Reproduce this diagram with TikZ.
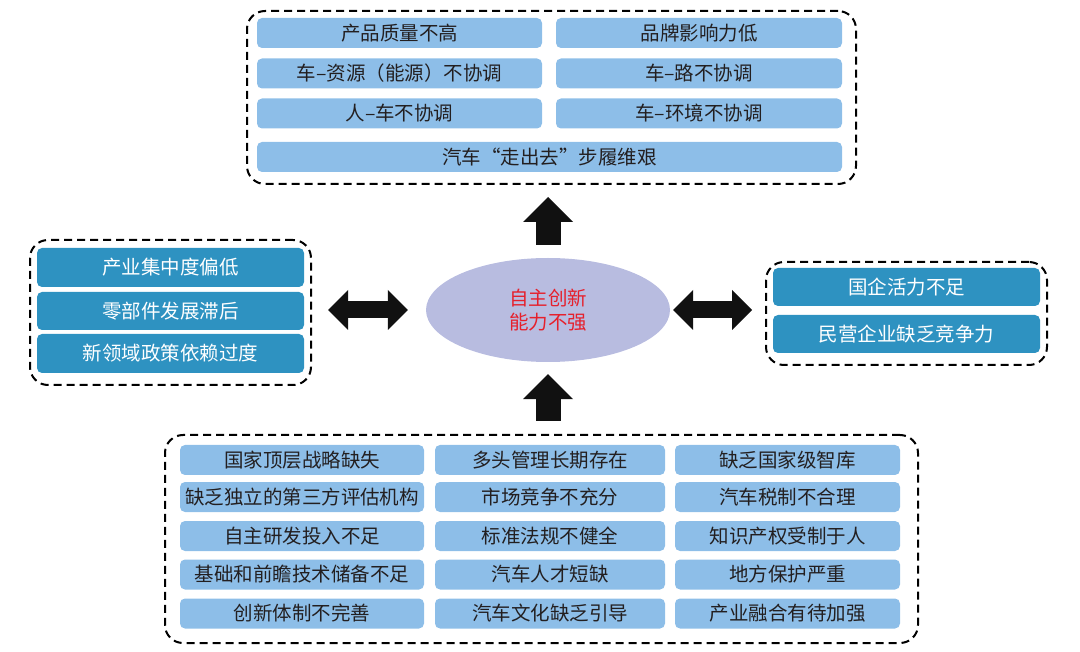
\documentclass[tikz,border=0pt]{standalone}
\usepackage{fontspec}
\newfontfamily\cjk{Noto Sans CJK SC}
\usepackage{tikz}
\usetikzlibrary{arrows.meta,shapes.geometric}
\definecolor{boxLight}{RGB}{141,190,232}
\definecolor{boxDark}{RGB}{46,146,193}
\definecolor{coreFill}{RGB}{184,188,224}
\definecolor{coreText}{RGB}{230,32,44}
\definecolor{inkGray}{RGB}{35,31,32}
\definecolor{arrowInk}{RGB}{17,17,17}

\begin{document}
\begin{tikzpicture}[
  x=1pt, y=-1pt,
  every node/.style={font=\cjk\fontsize{19.5}{24}\selectfont, inner sep=0pt},
  group/.style={draw=black, line width=2pt, dash pattern=on 8pt off 5pt, rounded corners=18pt},
  light/.style={fill=boxLight, text=inkGray, rounded corners=5pt, minimum height=30pt},
  dark/.style={fill=boxDark, text=white, rounded corners=5pt, minimum height=38pt, minimum width=267pt},
  core/.style={ellipse, fill=coreFill, text=coreText, align=center, minimum width=244pt, minimum height=104pt},
  block up/.style={color=arrowInk, line width=25pt,
    -{Triangle[length=25pt, width=50pt, line width=0pt]}, shorten <=13pt, shorten >=12pt},
  block both/.style={color=arrowInk, line width=17pt,
    {Triangle[length=20pt, width=40pt, line width=0pt]}-{Triangle[length=20pt, width=40pt, line width=0pt]}}
]
\useasboundingbox (0,0) rectangle (1080,652);

% groups
\node[group, minimum width=609pt, minimum height=173pt] (topGrp) at (551.5,97.5) {};
\node[group, minimum width=281pt, minimum height=145pt] (leftGrp) at (170.5,312.5) {};
\node[group, minimum width=281pt, minimum height=103pt] (rightGrp) at (906.5,313.5) {};
\node[group, minimum width=753pt, minimum height=208pt] (botGrp) at (541.5,539) {};

% top
\node[light, minimum width=285pt] (t1) at (399.5,33) {产品质量不高};
\node[light, minimum width=286pt] (t2) at (699,33) {品牌影响力低};
\node[light, minimum width=285pt] (t3) at (399.5,73.5) {车–资源（能源）不协调};
\node[light, minimum width=286pt] (t4) at (699,73.5) {车–路不协调};
\node[light, minimum width=285pt] (t5) at (399.5,113.5) {人–车不协调};
\node[light, minimum width=286pt] (t6) at (699,113.5) {车–环境不协调};
\node[light, minimum width=585pt] (t7) at (549.5,157) {汽车“走出去”步履维艰};

% left and right
\node[dark, minimum height=39pt] (l1) at (170.5,267.5) {产业集中度偏低};
\node[dark] (l2) at (170.5,311) {零部件发展滞后};
\node[dark, minimum height=39pt] (l3) at (170.5,353.5) {新领域政策依赖过度};
\node[dark] (r1) at (906.5,287) {国企活力不足};
\node[dark] (r2) at (906.5,334) {民营企业缺乏竞争力};

\node[core] (core) at (548,310) {自主创新\\能力不强}; % root

% bottom
\node[light, minimum width=244pt] (b11) at (302,460) {国家顶层战略缺失};
\node[light, minimum width=230pt] (b12) at (550,460) {多头管理长期存在};
\node[light, minimum width=225pt] (b13) at (787.5,460) {缺乏国家级智库};
\node[light, minimum width=244pt] (b21) at (302,497) {缺乏独立的第三方评估机构};
\node[light, minimum width=230pt] (b22) at (550,497) {市场竞争不充分};
\node[light, minimum width=225pt] (b23) at (787.5,497) {汽车税制不合理};
\node[light, minimum width=244pt] (b31) at (302,536) {自主研发投入不足};
\node[light, minimum width=230pt] (b32) at (550,536) {标准法规不健全};
\node[light, minimum width=225pt] (b33) at (787.5,536) {知识产权受制于人};
\node[light, minimum width=244pt] (b41) at (302,574.5) {基础和前瞻技术储备不足};
\node[light, minimum width=230pt] (b42) at (550,574.5) {汽车人才短缺};
\node[light, minimum width=225pt] (b43) at (787.5,574.5) {地方保护严重};
\node[light, minimum width=244pt] (b51) at (302,613.5) {创新体制不完善};
\node[light, minimum width=230pt] (b52) at (550,613.5) {汽车文化缺乏引导};
\node[light, minimum width=225pt] (b53) at (787.5,613.5) {产业融合有待加强};

% block arrows
\draw[block up] (core.north) -- (core.north |- topGrp.south);
\draw[block up] (core.south |- botGrp.north) -- (core.south);
\draw[block both, shorten <=16pt, shorten >=18pt] (leftGrp.east |- core.west) -- (core.west);
\draw[block both, shorten <=3pt, shorten >=13pt] (core.east) -- (core.east -| rightGrp.west);
\end{tikzpicture}
\end{document}
